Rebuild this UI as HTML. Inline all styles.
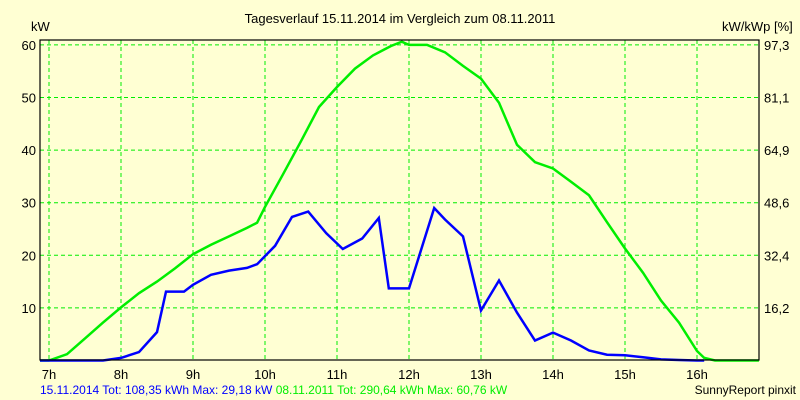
<!DOCTYPE html>
<html><head><meta charset="utf-8"><style>
body{margin:0;background:#ffffd3;}
svg{display:block;font-family:"Liberation Sans",sans-serif;}
</style></head><body>
<svg id="chart" width="800" height="400">
<rect width="800" height="400" fill="#ffffd3"/>
<text x="400" y="23" text-anchor="middle" font-size="13">Tagesverlauf 15.11.2014 im Vergleich zum 08.11.2011</text>
<text x="31" y="31" font-size="13">kW</text>
<text x="722" y="31" font-size="13">kW/kWp [%]</text>
<g id="grid"></g><g id="series"></g><g id="axes"></g>
<text x="40" y="394" font-size="12"><tspan fill="#0000ff">15.11.2014 Tot: 108,35 kWh Max: 29,18 kW </tspan><tspan fill="#00ee00">08.11.2011 Tot: 290,64 kWh Max: 60,76 kW</tspan></text>
<text x="796" y="394" font-size="12" text-anchor="end">SunnyReport pinxit</text>
</svg>
<script>
const hourTicks=[7,8,9,10,11,12,13,14,15,16];
const leftTicks=[10,20,30,40,50,60];
const rightTickLabels=["16,2","32,4","48,6","64,9","81,1","97,3"];
const greenTimes=[6.875,7,7.25,7.5,7.75,8,8.25,8.5,8.75,9,9.25,9.5,9.75,9.89,10,10.25,10.5,10.75,11,11.25,11.5,11.75,11.9,12,12.25,12.5,12.75,13,13.25,13.5,13.75,14,14.25,14.5,14.75,15,15.25,15.5,15.75,16,16.1,16.25,16.5,16.86];
const greenValues=[0,0,1.2,4.2,7.2,10.1,12.8,15,17.5,20.2,22,23.6,25.2,26.2,29.2,35.4,41.7,48.2,52,55.5,58,59.8,60.6,60,60,58.6,56,53.6,49,41,37.7,36.5,34,31.4,26.3,21.3,16.7,11.4,7.2,1.8,0.5,0,0,0];
const blueTimes=[6.875,7,7.5,7.75,8,8.25,8.5,8.625,8.875,9,9.25,9.5,9.75,9.89,10.14,10.375,10.6,10.85,11.08,11.35,11.58,11.72,12,12.35,12.5,12.75,13,13.25,13.5,13.75,14,14.25,14.5,14.75,15,15.25,15.5,15.75,16,16.1];
const blueValues=[0,0,0,0,0.5,1.6,5.4,13.1,13.1,14.4,16.3,17.1,17.6,18.3,21.8,27.3,28.3,24.2,21.2,23.2,27.1,13.7,13.7,29,26.8,23.6,9.5,15.2,9.1,3.8,5.3,3.8,1.9,1.1,1,0.6,0.2,0.1,0,0];
const L=40,R=759,T=40,B=360;
const x=h=>49+(h-7)*72;
const y=v=>360.5-v*5.26;
const NS="http://www.w3.org/2000/svg";
function mk(tag,attrs,parent){const e=document.createElementNS(NS,tag);for(const k in attrs)e.setAttribute(k,attrs[k]);parent.appendChild(e);return e;}
const grid=document.getElementById('grid'),series=document.getElementById('series'),axes=document.getElementById('axes');
hourTicks.forEach(h=>{
 const l=mk('line',{x1:x(h),x2:x(h),y1:T,y2:B,stroke:'#00ee00','stroke-dasharray':'4,3'},grid);
 
 
 const t=mk('text',{x:x(h),y:379,'font-size':13,'text-anchor':'middle'},axes);
 t.textContent=h+'h';
 
 
});
leftTicks.forEach((v,i)=>{
 const l=mk('line',{x1:L,x2:R,y1:y(v),y2:y(v),stroke:'#00ee00','stroke-dasharray':'4,3'},grid);
 
 
 const t=mk('text',{x:36,y:y(v)+5,'font-size':13,'text-anchor':'end'},axes);
 t.textContent=v;
 
 
 const r=mk('text',{x:764,y:y(v)+5,'font-size':13},axes);
 r.textContent=rightTickLabels[i];
 
 
});
const box=mk('rect',{x:L,y:T,width:R-L,height:B-T,fill:'none',stroke:'#000','stroke-width':1.2},axes);


function line(ts,vs){return ts.map((t,i)=>x(t).toFixed(1)+','+y(vs[i]).toFixed(1)).join(' ');}
const g=mk('polyline',{points:line(greenTimes,greenValues),fill:'none',stroke:'#00ee00','stroke-width':2.5},series);


const b=mk('polyline',{points:line(blueTimes,blueValues),fill:'none',stroke:'#0000ff','stroke-width':2.5},series);


</script>
</body></html>
